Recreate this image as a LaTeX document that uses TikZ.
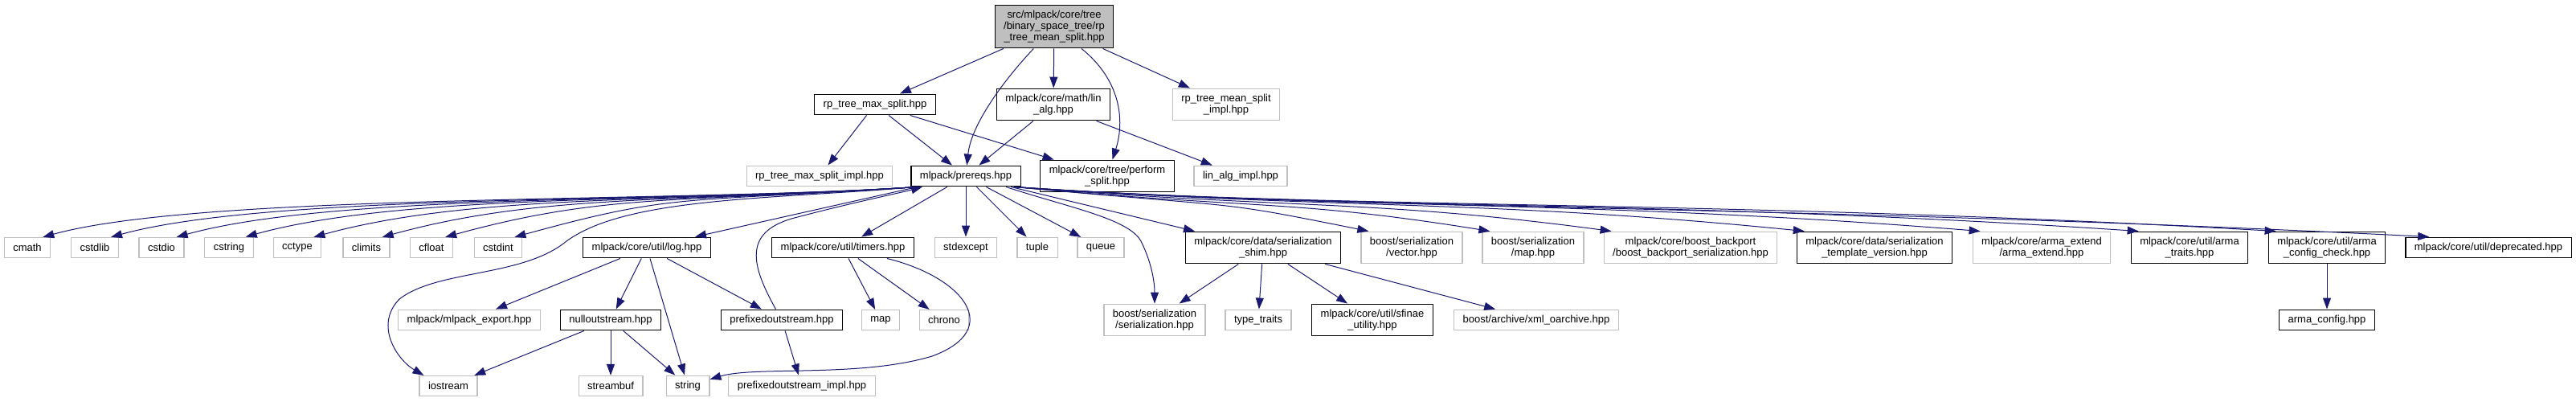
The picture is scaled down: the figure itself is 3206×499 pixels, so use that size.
\documentclass[tikz,border=0pt]{standalone}
\usepackage{fontspec}
\setmainfont{Liberation Sans}
\usepackage{tikz}
\usetikzlibrary{arrows.meta}
\definecolor{depblue}{HTML}{191970}
\definecolor{sysgray}{HTML}{BFBFBF}

\begin{document}
\begin{tikzpicture}[x=0.5pt, y=-0.5pt, font=\fontsize{6.5}{7}\selectfont,
  filebox/.style={draw=black, line width=0.6pt, align=center, inner xsep=5.5pt, inner ysep=3.4pt, minimum height=12.5pt},
  sysbox/.style={filebox, draw=sysgray},
  rootbox/.style={filebox, fill=sysgray},
  dep/.style={depblue, line width=0.5pt, -{Triangle[length=7pt, width=5pt]}}]
  \useasboundingbox (0,0) rectangle (3206,499);
  \node[rootbox] (root) at (1312,33) {src/mlpack/core/tree\\/binary\_space\_tree/rp\\\_tree\_mean\_split.hpp};
  \node[filebox] (rpmax) at (1089,130) {rp\_tree\_max\_split.hpp};
  \node[filebox] (linalg) at (1311,130) {mlpack/core/math/lin\\\_alg.hpp};
  \node[sysbox] (meanimpl) at (1526,130) {rp\_tree\_mean\_split\\\_impl.hpp};
  \node[sysbox] (maximpl) at (1020,219) {rp\_tree\_max\_split\_impl.hpp};
  \node[filebox] (prereqs) at (1202,219) {mlpack/prereqs.hpp};
  \node[filebox] (perform) at (1378,219) {mlpack/core/tree/perform\\\_split.hpp};
  \node[sysbox] (linalgimpl) at (1544,219) {lin\_alg\_impl.hpp};
  \node[sysbox] (cmath) at (34,308) {cmath};
  \node[sysbox] (cstdlib) at (118,308) {cstdlib};
  \node[sysbox] (cstdio) at (201,308) {cstdio};
  \node[sysbox] (cstring) at (285,308) {cstring};
  \node[sysbox] (cctype) at (370,308) {cctype};
  \node[sysbox] (climits) at (456,308) {climits};
  \node[sysbox] (cfloat) at (537,308) {cfloat};
  \node[sysbox] (cstdint) at (620,308) {cstdint};
  \node[filebox] (log) at (805,308) {mlpack/core/util/log.hpp};
  \node[filebox] (timers) at (1049,308) {mlpack/core/util/timers.hpp};
  \node[sysbox] (stdexcept) at (1202,308) {stdexcept};
  \node[sysbox] (tuple) at (1291,308) {tuple};
  \node[sysbox] (queue) at (1370,308) {queue};
  \node[filebox] (shim) at (1572,308) {mlpack/core/data/serialization\\\_shim.hpp};
  \node[sysbox] (bvec) at (1757,308) {boost/serialization\\/vector.hpp};
  \node[sysbox] (bmap) at (1908,308) {boost/serialization\\/map.hpp};
  \node[sysbox] (backport) at (2104,308) {mlpack/core/boost\_backport\\/boost\_backport\_serialization.hpp};
  \node[filebox] (tversion) at (2333,308) {mlpack/core/data/serialization\\\_template\_version.hpp};
  \node[sysbox] (armaext) at (2541,308) {mlpack/core/arma\_extend\\/arma\_extend.hpp};
  \node[filebox] (armatraits) at (2725,308) {mlpack/core/util/arma\\\_traits.hpp};
  \node[filebox] (armacheck) at (2896,308) {mlpack/core/util/arma\\\_config\_check.hpp};
  \node[filebox] (deprec) at (3097,308) {mlpack/core/util/deprecated.hpp};
  \node[sysbox] (mlexport) at (584,398) {mlpack/mlpack\_export.hpp};
  \node[filebox] (nullout) at (760,398) {nulloutstream.hpp};
  \node[filebox] (prefixed) at (973,398) {prefixedoutstream.hpp};
  \node[sysbox] (map) at (1096,398) {map};
  \node[sysbox] (chrono) at (1175,398) {chrono};
  \node[sysbox] (bser) at (1437,398) {boost/serialization\\/serialization.hpp};
  \node[sysbox] (typetraits) at (1566,398) {type\_traits};
  \node[filebox] (sfinae) at (1708,398) {mlpack/core/util/sfinae\\\_utility.hpp};
  \node[sysbox] (xmlarch) at (1912,398) {boost/archive/xml\_oarchive.hpp};
  \node[filebox] (armaconfig) at (2896,398) {arma\_config.hpp};
  \node[sysbox] (iostream) at (558,480) {iostream};
  \node[sysbox] (streambuf) at (760,480) {streambuf};
  \node[sysbox] (string) at (856,480) {string};
  \node[sysbox] (prefimpl) at (998,480) {prefixedoutstream\_impl.hpp};
  \draw[dep] (root) -- (rpmax);
  \draw[dep] (root) .. controls (1240,110) and (1208,160) .. (prereqs);
  \draw[dep] (root) -- (linalg);
  \draw[dep] (root) .. controls (1395,100) and (1400,150) .. (perform);
  \draw[dep] (root) -- (meanimpl);
  \draw[dep] (rpmax) -- (maximpl);
  \draw[dep] (rpmax) -- (prereqs);
  \draw[dep] (rpmax) -- (perform);
  \draw[dep] (linalg) -- (prereqs);
  \draw[dep] (linalg) -- (linalgimpl);
  \draw[dep] ([xshift=-30pt]prereqs.south) .. controls +(-300,20) and +(200,-55) .. ([xshift=-5pt]cmath.north east);
  \draw[dep] ([xshift=-30pt]prereqs.south) .. controls +(-300,20) and +(200,-55) .. ([xshift=-5pt]cstdlib.north east);
  \draw[dep] ([xshift=-30pt]prereqs.south) .. controls +(-300,20) and +(200,-55) .. ([xshift=-5pt]cstdio.north east);
  \draw[dep] ([xshift=-30pt]prereqs.south) .. controls +(-300,20) and +(200,-55) .. ([xshift=-5pt]cstring.north east);
  \draw[dep] ([xshift=-30pt]prereqs.south) .. controls +(-300,20) and +(200,-55) .. ([xshift=-5pt]cctype.north east);
  \draw[dep] ([xshift=-30pt]prereqs.south) .. controls +(-300,20) and +(200,-55) .. ([xshift=-5pt]climits.north east);
  \draw[dep] ([xshift=-30pt]prereqs.south) .. controls +(-300,20) and +(200,-55) .. ([xshift=-5pt]cfloat.north east);
  \draw[dep] ([xshift=-30pt]prereqs.south) .. controls +(-300,20) and +(200,-55) .. ([xshift=-5pt]cstdint.north east);
  \draw[dep] ([xshift=-30pt]prereqs.south) .. controls (960,248) and (780,245) .. (705,300) .. controls (650,345) and (545,335) .. (497,372) .. controls (465,405) and (495,448) .. ([xshift=3pt]iostream.north west);
  \draw[dep] (prereqs) -- (log);
  \draw[dep] (prefixed) .. controls (935,330) and (925,290) .. (985,272) .. controls (1060,252) and (1120,240) .. ([xshift=-27pt]prereqs.south);
  \draw[dep] (prereqs) -- (timers);
  \draw[dep] (prereqs) -- (stdexcept);
  \draw[dep] (prereqs) -- (tuple);
  \draw[dep] (prereqs) -- (queue);
  \draw[dep] ([xshift=25pt]prereqs.south) .. controls (1330,258) and (1405,272) .. (1420,300) .. controls (1435,330) and (1437,355) .. (bser);
  \draw[dep] (prereqs) -- (shim);
  \draw[dep] ([xshift=30pt]prereqs.south) .. controls +(300,28) and +(-200,-40) .. ([xshift=5pt]bvec.north west);
  \draw[dep] ([xshift=30pt]prereqs.south) .. controls +(300,28) and +(-250,-40) .. ([xshift=5pt]bmap.north west);
  \draw[dep] ([xshift=30pt]prereqs.south) .. controls +(350,28) and +(-300,-40) .. ([xshift=5pt]backport.north west);
  \draw[dep] ([xshift=30pt]prereqs.south) .. controls +(400,28) and +(-400,-40) .. ([xshift=5pt]tversion.north west);
  \draw[dep] ([xshift=30pt]prereqs.south) .. controls +(400,28) and +(-500,-40) .. ([xshift=5pt]armaext.north west);
  \draw[dep] ([xshift=30pt]prereqs.south) .. controls +(400,28) and +(-600,-40) .. ([xshift=5pt]armatraits.north west);
  \draw[dep] ([xshift=30pt]prereqs.south) .. controls +(400,28) and +(-700,-40) .. ([xshift=5pt]armacheck.north west);
  \draw[dep] ([xshift=30pt]prereqs.south) .. controls +(400,28) and +(-800,-40) .. ([xshift=15pt]deprec.north west);
  \draw[dep] (log) -- (mlexport);
  \draw[dep] (log) -- (nullout);
  \draw[dep] (log) -- (string);
  \draw[dep] (log) -- (prefixed);
  \draw[dep] (nullout) -- (iostream);
  \draw[dep] (nullout) -- (streambuf);
  \draw[dep] (nullout) -- (string);
  \draw[dep] (prefixed) -- (prefimpl);
  \draw[dep] (timers) -- (map);
  \draw[dep] (timers) -- (chrono);
  \draw[dep] (timers) .. controls (1200,345) and (1250,410) .. (1160,443) .. controls (1070,470) and (940,455) .. (string);
  \draw[dep] (shim) -- (bser);
  \draw[dep] (shim) -- (typetraits);
  \draw[dep] (shim) -- (sfinae);
  \draw[dep] (shim) -- (xmlarch);
  \draw[dep] (armacheck) -- (armaconfig);
\end{tikzpicture}
\end{document}
